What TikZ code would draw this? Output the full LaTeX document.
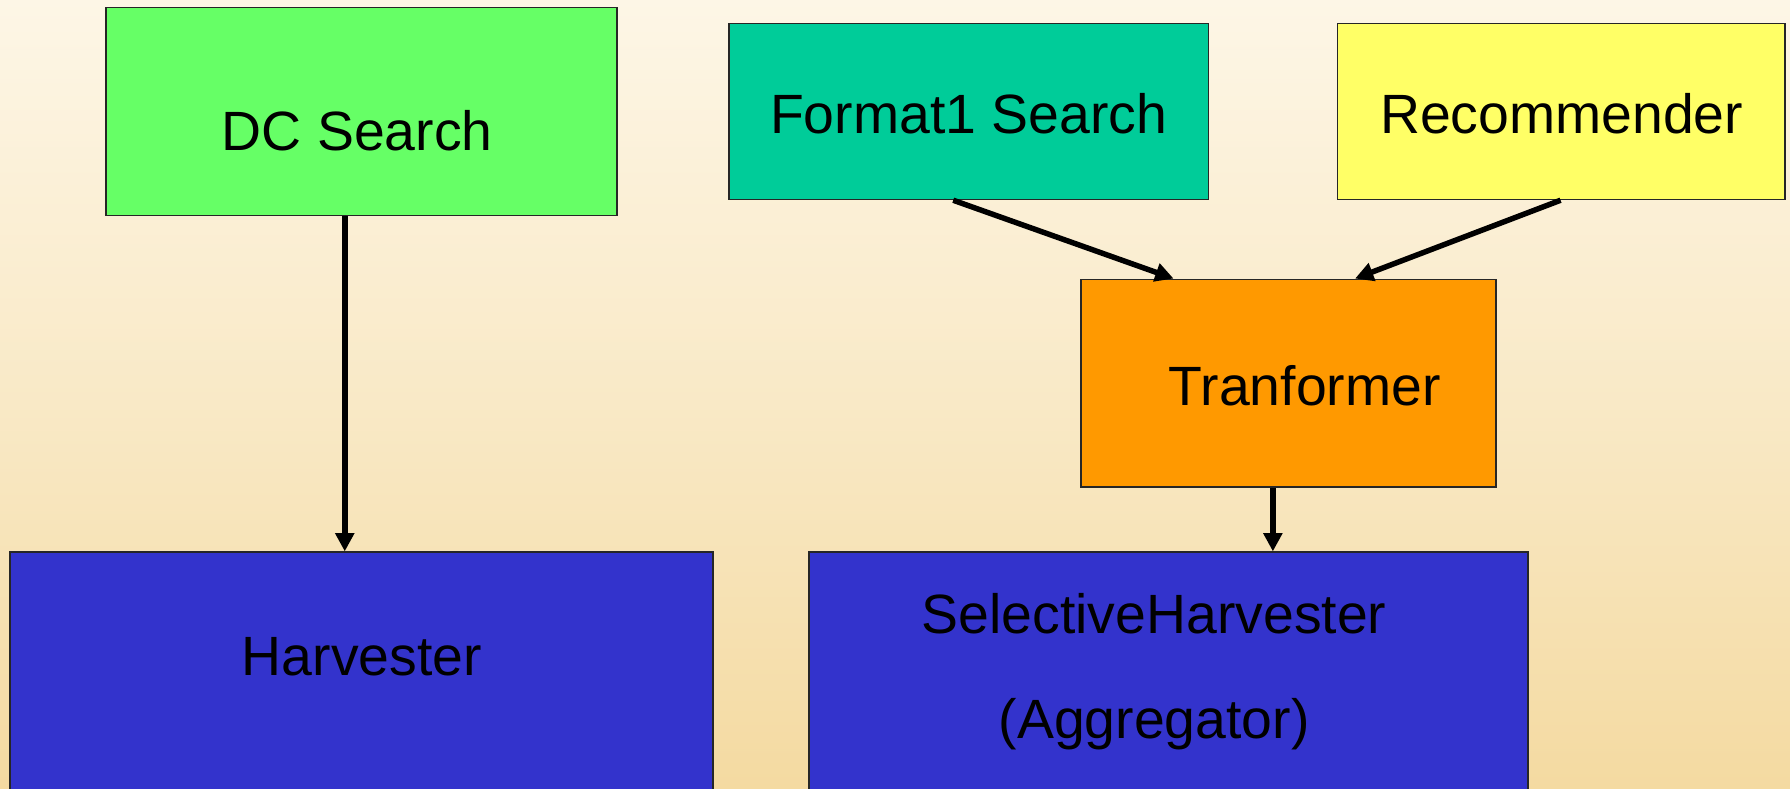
\documentclass[tikz,border=0pt]{standalone}
\usepackage{fontspec}
\setmainfont{Liberation Sans}
\usetikzlibrary{arrows.meta}
\definecolor{bgtop}{HTML}{FDF6E6}
\definecolor{bgbot}{HTML}{F4DAA1}
\definecolor{cgreen}{HTML}{66FF66}
\definecolor{cteal}{HTML}{00CC99}
\definecolor{cyellow}{HTML}{FFFF66}
\definecolor{corange}{HTML}{FF9900}
\definecolor{cblue}{HTML}{3333CC}
\tikzset{
  box/.style={draw=black!85, line width=1.4pt, inner sep=0pt, anchor=north west},
  lbl/.style={anchor=base, inner sep=0pt, font=\fontsize{48.5}{58}\selectfont},
  conn/.style={line width=4.8pt, -{Triangle[length=16pt,width=16pt]}}
}
\begin{document}
\begin{tikzpicture}[x=1pt,y=-1pt]
\useasboundingbox (0,0) rectangle (1568,691);
\clip (0,0) rectangle (1568,691);
\shade[top color=bgtop, bottom color=bgbot, middle color=bgtop!55!bgbot] (0,0) rectangle (1568,691);
% boxes
\node[box, fill=cgreen, minimum width=448pt, minimum height=182pt] (dc) at (92,6) {};
\node[box, fill=cteal, minimum width=420pt, minimum height=154pt] (f1) at (638,20) {};
\node[box, fill=cyellow, minimum width=392pt, minimum height=154pt] (rec) at (1171,20) {};
\node[box, fill=corange, minimum width=364pt, minimum height=182pt] (tr) at (946,244) {};
\node[box, fill=cblue, minimum width=616pt, minimum height=230pt] (hv) at (8,483) {};
\node[box, fill=cblue, minimum width=630pt, minimum height=230pt] (sh) at (708,483) {};
% labels
\node[lbl] (dct) at (313,132) {DC Search};
\node[lbl] (f1t) at (848.5,117) {Format1 Search};
\node[lbl] (rect) at (1368,117) {Recommender};
\node[lbl] (trt) at (1143,355.5) {Tranformer};
\node[lbl] (hvt) at (317,592) {Harvester};
\node[lbl] (sht) at (1011,555) {SelectiveHarvester};
\node[lbl] (agt) at (1011,647) {(Aggregator)};
% connectors
\draw[conn] (dc.south -| 302,0) -- (hv.north -| 302,0);
\draw[conn] ([xshift=197pt]f1.south west) -- ([xshift=82pt]tr.north west);
\draw[conn] ([xshift=196pt]rec.south west) -- ([xshift=241pt]tr.north west);
\draw[conn] ([xshift=169pt]tr.south west) -- ([xshift=407pt]sh.north west);
\end{tikzpicture}
\end{document}
